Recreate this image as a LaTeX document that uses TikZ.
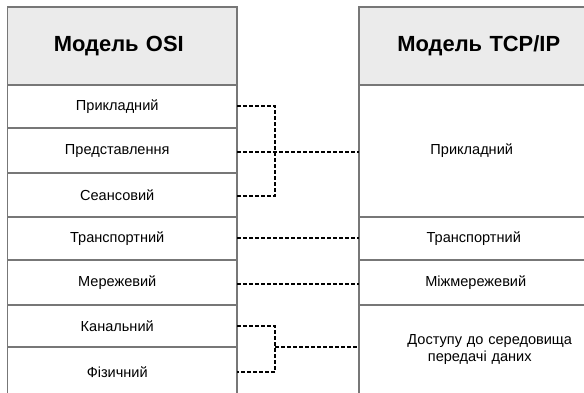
\documentclass[tikz,border=0pt]{standalone}
\usepackage{fontspec}
\setmainfont{Liberation Sans}
\definecolor{bordergray}{HTML}{777777}
\definecolor{headfill}{HTML}{EBEBEB}
\newcommand{\lsh}{\hspace*{-10bp}}
\tikzset{
  cell/.style={draw=bordergray, line width=1.3bp, rectangle, anchor=north west,
    inner sep=0pt, outer sep=0pt, minimum width=229.5bp, text width=229.5bp,
    font=\fontsize{14.6}{18}\selectfont, align=center},
  head/.style={cell, fill=headfill, font=\bfseries\fontsize{22}{26}\selectfont},
  conn/.style={draw=black, line width=1.9bp, dash pattern=on 4bp off 2bp},
}
\begin{document}
\begin{tikzpicture}[x=1bp,y=-1bp]
\useasboundingbox (0,0) rectangle (584,392);
\clip (0,0) rectangle (584,392);
% OSI
\node[head, minimum height=78bp] (h1) at (7.5,7) {\hspace*{-7bp}Модель OSI};
\node[cell, minimum height=43bp] (r1) at (7.5,85) {\lsh Прикладний};
\node[cell, minimum height=45bp] (r2) at (7.5,128) {\lsh Представлення};
\node[cell, minimum height=44bp] (r3) at (7.5,173) {\lsh Сеансовий};
\node[cell, minimum height=43bp] (r4) at (7.5,217) {\lsh Транспортний};
\node[cell, minimum height=45bp] (r5) at (7.5,260) {\lsh Мережевий};
\node[cell, minimum height=42bp] (r6) at (7.5,305) {\lsh Канальний};
\node[cell, minimum height=50bp] (r7) at (7.5,347) {\lsh Фізичний};
% TCP/IP
\node[head, minimum height=78bp] (h2) at (359,7) {\hspace*{10bp}Модель TCP/IP};
\node[cell, minimum height=132bp] (t1) at (359,85) {\hspace*{-4bp}Прикладний};
\node[cell, minimum height=43bp] (t2) at (359,217) {Транспортний};
\node[cell, minimum height=45bp] (t3) at (359,260) {\hspace*{4bp}Міжмережевий};
\node[cell, minimum height=89bp] (t4) at (359,305) {\hspace*{32bp}Доступу до середовища\\\hspace*{12bp}передачі даних};
% connectors
\coordinate (e1) at ([yshift=0.5bp]r1.east);
\coordinate (e2) at ([yshift=-1.5bp]r2.east);
\coordinate (e3) at ([yshift=-1bp]r3.east);
\coordinate (e4) at ([yshift=0.5bp]r4.east);
\coordinate (e5) at ([yshift=-1.5bp]r5.east);
\coordinate (b1) at (275,152);
\coordinate (b2) at (275,347);
\draw[conn] (e1) -| (b1) |- (e3);
\draw[conn] (e2) -- (e2 -| t1.west);
\draw[conn] (e4) -- (e4 -| t2.west);
\draw[conn] (e5) -- (e5 -| t3.west);
\draw[conn] (r6.east) -| (b2) |- (r7.east);
\draw[conn] (b2) -- (b2 -| t4.west);
\end{tikzpicture}
\end{document}
